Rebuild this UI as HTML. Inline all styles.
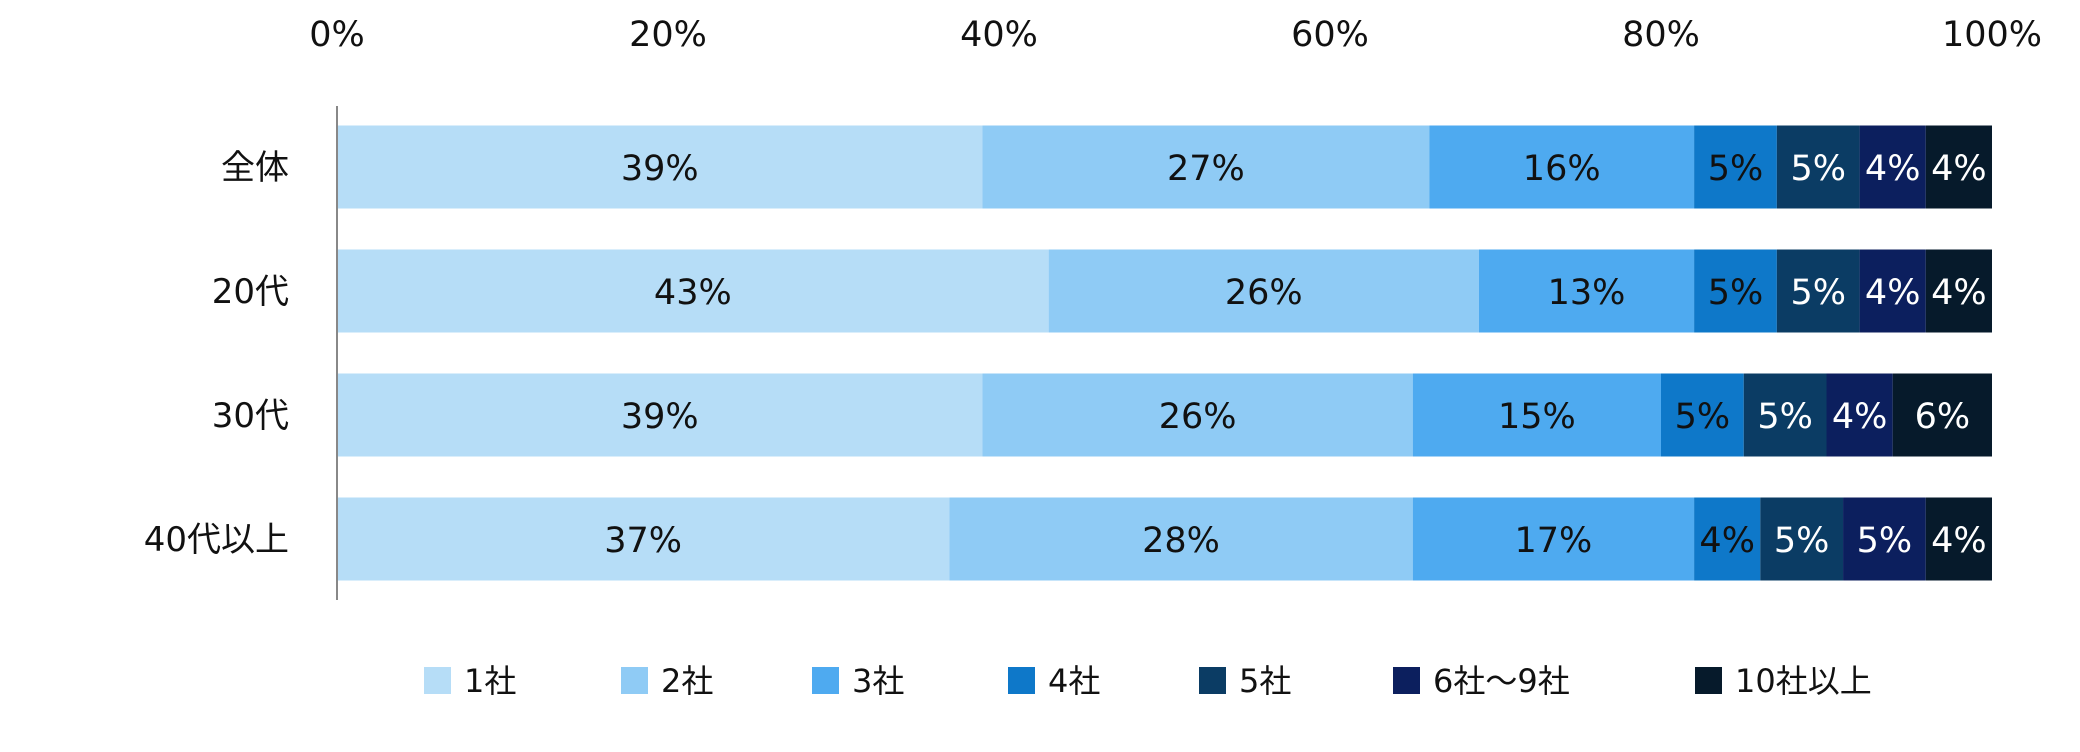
<!DOCTYPE html>
<html><head><meta charset="utf-8"><style>
body{margin:0;background:#fff;}
svg text{font-family:"DejaVu Sans","Noto Sans CJK JP",sans-serif;}
</style></head><body>
<svg id="chart" width="2080" height="747" xmlns="http://www.w3.org/2000/svg"></svg>
<script>
const categories=["全体","20代","30代","40代以上"];
const seriesNames=["1社","2社","3社","4社","5社","6社～9社","10社以上"];
const s1=[39,43,39,37];
const s2=[27,26,26,28];
const s3=[16,13,15,17];
const s4=[5,5,5,4];
const s5=[5,5,5,5];
const s6=[4,4,4,5];
const s7=[4,4,6,4];
const ticks=[0,20,40,60,80,100];
const series=[s1,s2,s3,s4,s5,s6,s7];
const colors=["#b6ddf7","#8fcbf5","#4eaaf0","#0e78c9","#0b3c64","#0c1f5e","#061a2b"];
const textColors=["#111","#111","#111","#111","#fff","#fff","#fff"];
const NS="http://www.w3.org/2000/svg";
const svg=document.getElementById('chart');
const x0=337,x1=1992;
const xs=v=>x0+(x1-x0)*v/100;
const bandTop=105,band=124,barH=83;
const yc=i=>bandTop+band*i+band/2;
function mk(t,a){const e=document.createElementNS(NS,t);for(const k in a)e.setAttribute(k,a[k]);svg.appendChild(e);return e;}
ticks.forEach(t=>{
 const e=mk('text',{x:xs(t),y:46,'font-size':35,'text-anchor':'middle',fill:'#111'});
 
 
 e.textContent=t+'%';
});
categories.forEach((c,i)=>{
 const e=mk('text',{x:289,y:yc(i)+12,'font-size':34,'text-anchor':'end',fill:'#111'});
 
 
 e.textContent=c;
 let acc=0;
 series.forEach((s,j)=>{
  const v=s[i];
  const r=mk('rect',{x:xs(acc),y:yc(i)-barH/2,width:xs(acc+v)-xs(acc),height:barH,fill:colors[j]});
  
  
  const t=mk('text',{x:(xs(acc)+xs(acc+v))/2,y:yc(i)+13,'font-size':35,'text-anchor':'middle',fill:textColors[j]});
  
  
  t.textContent=v+'%';
  acc+=v;
 });
});
const ax=mk('line',{x1:x0,x2:x0,y1:106,y2:600,stroke:'#888','stroke-width':2});


const lx=[424,621,812,1008,1199,1393,1695];
seriesNames.forEach((n,j)=>{
 const r=mk('rect',{x:lx[j],y:667,width:27,height:27,fill:colors[j]});
 
 
 const t=mk('text',{x:lx[j]+40,y:692,'font-size':32,fill:'#111'});
 
 
 t.textContent=n;
});
</script>
</body></html>
